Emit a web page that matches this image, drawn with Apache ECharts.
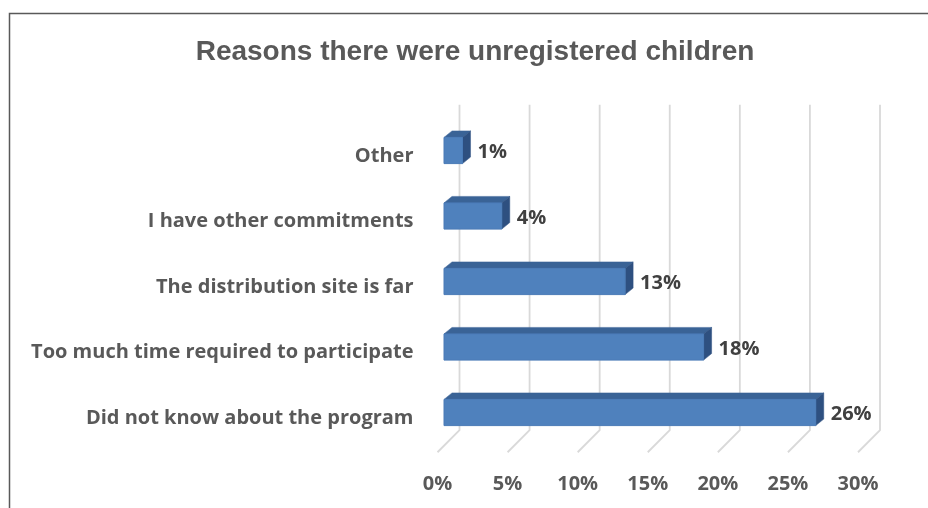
<!DOCTYPE html>
<html>
<head>
<meta charset="utf-8">
<script src="https://cdn.jsdelivr.net/npm/echarts@6/dist/echarts.min.js"></script>
<style>html,body{margin:0;padding:0;background:#fff;}#c{width:928px;height:508px;}</style>
</head>
<body>
<div id="c"></div>
<script>
const categories = [
  "Did not know about the program",
  "Too much time required to participate",
  "The distribution site is far",
  "I have other commitments",
  "Other"
];
const values = [26.2, 18.2, 12.6, 3.8, 1.0];
const labels = ["26%", "18%", "13%", "4%", "1%"];
const ticks = [0, 5, 10, 15, 20, 25, 30];

const chart = echarts.init(document.getElementById('c'), null, {renderer: 'canvas'});

function renderGrid(params, api) {
  const cs = params.coordSys;
  const x = api.coord([api.value(0), 0])[0];
  const topY = cs.y - 18.5;
  const backY = cs.y + cs.height - 20.5;
  const frontY = cs.y + cs.height + 1.5;
  return {
    type: 'polyline',
    shape: {points: [[x + 22, topY], [x + 22, backY], [x, frontY]]},
    style: {stroke: '#D9D9D9', lineWidth: 1.8, fill: null}
  };
}

function renderBar(params, api) {
  const v = api.value(0);
  const c = api.value(1);
  const s = api.coord([0, c]);
  const e = api.coord([v, c]);
  const band = api.size([0, 1])[1];
  const h = band * 0.4;
  const fx0 = s[0] + 6.5, fx1 = e[0] + 11;
  const cy = s[1] - 5.5;
  const top = cy - h / 2, bot = cy + h / 2;
  const dx = 8, dy = -6.5;
  return {
    type: 'group',
    children: [
      {type: 'polygon', shape: {points: [[fx0, top], [fx1, top], [fx1 + dx, top + dy], [fx0 + dx, top + dy]]},
       style: {fill: '#3A6396', stroke: '#3A6396', lineWidth: 0.5}},
      {type: 'polygon', shape: {points: [[fx1, top], [fx1 + dx, top + dy], [fx1 + dx, bot + dy], [fx1, bot]]},
       style: {fill: '#2E5080', stroke: '#2E5080', lineWidth: 0.5}},
      {type: 'rect', shape: {x: fx0, y: top, width: fx1 - fx0, height: h},
       style: {fill: '#4F81BD', stroke: '#4A7BB7', lineWidth: 1}},
      {type: 'text', x: fx1 + dx + 7, y: cy + 2,
       style: {text: labels[params.dataIndex], fill: '#404040', font: 'bold 20px "Open Sans"', align: 'left', verticalAlign: 'middle'}}
    ]
  };
}

chart.setOption({
  animation: false,
  backgroundColor: '#fff',
  title: {
    text: 'Reasons there were unregistered children',
    left: 470, top: 33, textAlign: 'center',
    textStyle: {fontFamily: 'Liberation Sans', fontWeight: 'bold', fontSize: 28, color: '#595959'}
  },
  graphic: [{
    type: 'rect', shape: {x: 9.5, y: 13.5, width: 940, height: 520},
    style: {fill: null, stroke: '#595959', lineWidth: 1.5}, silent: true, z: 100
  }],
  grid: {left: 437.5, width: 420.5, top: 123.25, height: 327.5, containLabel: false},
  xAxis: {
    type: 'value', min: 0, max: 30, interval: 5,
    axisLine: {show: false}, axisTick: {show: false}, splitLine: {show: false},
    axisLabel: {formatter: '{value}%', margin: 24, fontFamily: 'Open Sans', fontWeight: 'bold', fontSize: 20, color: '#595959'}
  },
  yAxis: {
    type: 'category', data: categories,
    axisLine: {show: false}, axisTick: {show: false},
    axisLabel: {margin: 24, fontFamily: 'Open Sans', fontWeight: 'bold', fontSize: 20, color: '#595959', padding: [3, 0, 0, 0]}
  },
  series: [
    {type: 'custom', renderItem: renderGrid, data: ticks.map(t => [t, 0]), silent: true, z: 1, clip: false},
    {type: 'custom', renderItem: renderBar, data: values.map((v, i) => [v, i]), z: 2, clip: false}
  ]
});
</script>
</body>
</html>
